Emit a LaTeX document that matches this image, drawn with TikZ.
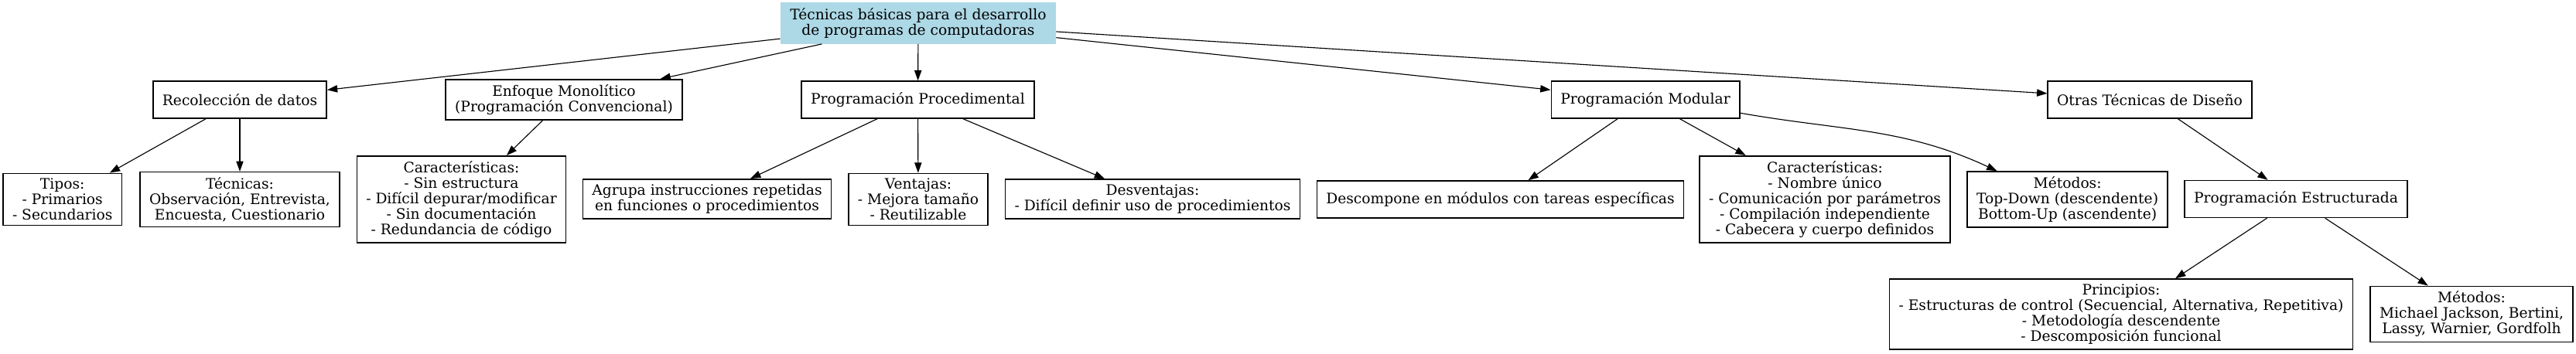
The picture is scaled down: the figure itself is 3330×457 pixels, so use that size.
\documentclass[tikz,border=0pt]{standalone}
\usepackage{fontspec}
\setmainfont{DejaVu Serif}
\usetikzlibrary{arrows.meta}
\definecolor{rootblue}{RGB}{173,216,230}
\tikzset{
    box/.style={draw=black, line width=1.1pt, fill=white, align=center,
        inner xsep=9pt, inner ysep=5pt, minimum height=36pt,
        font=\fontsize{14}{15}\selectfont},
    rootbox/.style={box, draw=rootblue, fill=rootblue},
    edge/.style={draw=black, line width=0.85pt,
        -{Triangle[length=10pt,width=7pt]}},
}

\begin{document}
\begin{tikzpicture}[x=0.75pt, y=-0.75pt]
	\useasboundingbox (0,0) rectangle (3330,457);
	\node[rootbox] (root) at (1187,30) {Técnicas básicas para el desarrollo\\de programas de computadoras};
		\node[box] (recol) at (310,129) {Recolección de datos};
		\node[box] (enfoque) at (729,129) {Enfoque Monolítico\\(Programación Convencional)};
		\node[box] (proced) at (1186.5,129) {Programación Procedimental};
		\node[box] (modular) at (2127,129) {Programación Modular};
		\node[box] (otras) at (2779,129) {Otras Técnicas de Diseño};
	\node[box] (tipos) at (80.7,258) {Tipos:\\- Primarios\\- Secundarios};
	\node[box] (tecnicas) at (310,258) {Técnicas:\\Observación, Entrevista,\\Encuesta, Cuestionario};
	\node[box] (caracMono) at (596.5,258) {Características:\\- Sin estructura\\- Difícil depurar/modificar\\- Sin documentación\\- Redundancia de código};
	\node[box] (agrupa) at (914,257.5) {Agrupa instrucciones repetidas\\en funciones o procedimientos};
	\node[box] (ventajas) at (1187,258) {Ventajas:\\- Mejora tamaño\\- Reutilizable};
	\node[box] (desventajas) at (1490,257.5) {Desventajas:\\- Difícil definir uso de procedimientos};
	\node[box] (descompone) at (1939.5,258) {Descompone en módulos con tareas específicas};
	\node[box] (caracMod) at (2359,258) {Características:\\- Nombre único\\- Comunicación por parámetros\\- Compilación independiente\\- Cabecera y cuerpo definidos};
	\node[box] (metodosMod) at (2672.6,258) {Métodos:\\Top-Down (descendente)\\Bottom-Up (ascendente)};
	\node[box] (estruct) at (2968,257.5) {Programación Estructurada};
	\node[box] (principios) at (2742,406.5) {Principios:\\- Estructuras de control (Secuencial, Alternativa, Repetitiva)\\- Metodología descendente\\- Descomposición funcional};
	\node[box] (metodosEst) at (3195,406.5) {Métodos:\\Michael Jackson, Bertini,\\Lassy, Warnier, Gordfolh};

	\foreach \to in {recol,enfoque,proced,modular,otras}
		\draw[edge] (root) -- (\to);
	\draw[edge] (recol) -- (tipos);
	\draw[edge] (recol) -- (tecnicas);
	\draw[edge] (enfoque) -- (caracMono);
	\foreach \to in {agrupa,ventajas,desventajas}
		\draw[edge] (proced) -- (\to);
	\draw[edge] (modular) -- (descompone);
	\draw[edge] (modular) -- (caracMod);
	\draw[edge] (modular.-8) to[out=-10,in=155] (metodosMod.158);
	\draw[edge] (otras) -- (estruct);
	\draw[edge] (estruct) -- (principios);
	\draw[edge] (estruct) -- (metodosEst);
\end{tikzpicture}
\end{document}
